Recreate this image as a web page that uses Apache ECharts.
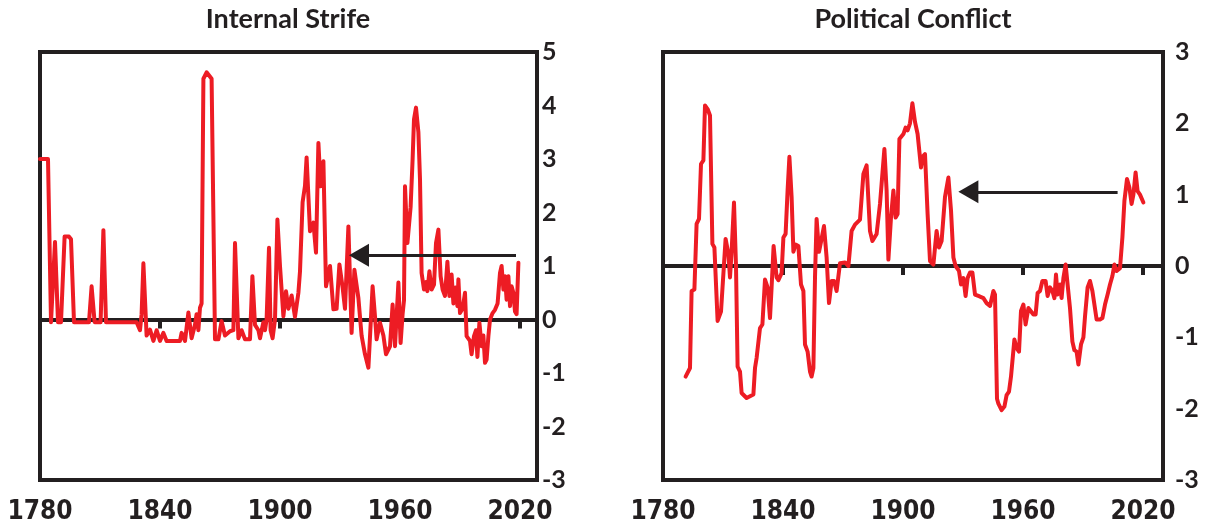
<!DOCTYPE html>
<html>
<head>
<meta charset="utf-8">
<script src="https://cdn.jsdelivr.net/npm/echarts@6/dist/echarts.min.js"></script>
<style>
html,body{margin:0;padding:0;background:#fff;}
#chart{width:1209px;height:524px;}
</style>
</head>
<body>
<div id="chart"></div>
<script>
// ---- Data ----
var xTickYears = [1780, 1840, 1900, 1960, 2020];

var strifeYears = [1780,1784,1785.5,1787.5,1789,1790.5,1792.3,1794.5,1795.5,1797,1804.5,1805.8,1807.3,1810.3,1811.7,1813,1828.3,1830,1830.8,1831.7,1833.3,1835,1836.7,1838.3,1840,1841.7,1843.3,1850,1850.8,1852.5,1854.2,1855.8,1857.5,1858.3,1859.2,1860,1860.8,1861.7,1863.3,1865.8,1867.5,1869.2,1870.8,1872.5,1875,1876.7,1877.5,1879.2,1880.8,1882.5,1885,1886.2,1887.5,1889.2,1890,1891.7,1892.5,1893.3,1894.5,1895.3,1896.3,1897.5,1898.7,1900,1901.7,1903,1904.2,1905.8,1907.5,1909.2,1910,1911.3,1912.5,1913.3,1915,1916.7,1918,1919.2,1920.3,1921.7,1923,1925,1926.7,1928.3,1929.7,1931.3,1932.5,1934.2,1935.8,1937.2,1939.2,1940.8,1942.5,1944.2,1945,1946.3,1947.5,1948.3,1950,1951.7,1953,1955,1956.3,1957.5,1959.2,1960.3,1961.3,1962,1962.5,1963.7,1964.7,1965.3,1966.3,1967,1968,1969.2,1970,1970.8,1972,1973,1973.7,1974.7,1975.8,1977,1978,1979.2,1980.3,1981.3,1982.5,1983.7,1984.7,1985.8,1986.7,1987.7,1988.7,1989.2,1990,1991.3,1992.5,1993.3,1995,1995.8,1997,1998,1998.7,1999.7,2000.8,2001.7,2002.5,2003.3,2004.2,2005,2006.3,2007.5,2008.8,2010,2010.8,2011.7,2012.5,2013.3,2014.2,2015,2015.8,2016.7,2017.5,2018.3,2019.2];
var strifeValues = [3.0,3.0,-0.05,1.45,-0.05,-0.05,1.55,1.55,1.5,-0.05,-0.05,0.62,-0.05,-0.05,1.67,-0.05,-0.05,-0.2,0.1,1.05,-0.3,-0.19,-0.4,-0.2,-0.4,-0.25,-0.4,-0.4,-0.25,-0.4,0.13,-0.35,-0.1,0.1,-0.2,0.22,0.3,4.5,4.62,4.5,-0.37,-0.37,-0.03,-0.3,-0.22,-0.2,1.43,-0.35,-0.2,-0.37,-0.37,0.81,-0.1,-0.2,-0.35,-0.05,-0.2,0.0,1.34,-0.2,-0.35,0.0,1.87,1.0,0.06,0.53,0.2,0.45,0.05,0.5,0.9,2.19,2.5,3.03,1.65,1.81,1.25,3.3,2.49,2.96,0.62,1.0,0.19,0.2,1.03,0.6,0.2,1.74,-0.25,0.93,0.4,-0.3,-0.65,-0.9,-0.87,0.62,0.06,-0.37,-0.06,-0.3,-0.65,-0.5,0.28,-0.5,0.69,-0.44,0.1,0.36,2.49,1.43,1.45,2.1,2.99,3.74,3.96,3.5,2.62,0.87,0.56,0.7,0.53,0.9,0.56,0.65,1.43,1.68,0.81,0.56,0.44,1.08,0.44,0.84,0.3,0.6,0.25,0.75,0.12,0.2,0.5,-0.31,-0.4,-0.65,-0.31,-0.2,-0.7,-0.06,-0.5,-0.3,-0.81,-0.75,-0.31,0.0,0.12,0.18,0.3,0.87,1.0,0.56,0.81,0.37,0.81,0.25,0.62,0.5,0.15,0.1,1.06];

var conflictYears = [1791.3,1793.5,1794.3,1795.7,1796.8,1798,1799,1800.2,1801,1802.3,1803.5,1804.7,1805.7,1807.3,1809,1811.3,1812.7,1813.5,1814.3,1815.5,1816.5,1817.3,1818.5,1819.3,1821.8,1825.2,1826,1826.8,1828.5,1829.7,1831,1832.3,1833.5,1834.3,1835.3,1836.8,1837.7,1839.3,1840.2,1841.3,1842.3,1843.2,1844.3,1845.2,1846.3,1847.7,1849,1850.2,1851,1852.3,1853.5,1854.3,1855.2,1856,1856.8,1858,1859,1860.5,1861.8,1863,1864.3,1865.5,1866.8,1868.5,1871,1872.7,1874.3,1876,1878.5,1880.2,1881.8,1883.5,1884.7,1886.8,1888.5,1889.3,1890.7,1891.8,1892.7,1894,1895.2,1896.3,1897.3,1898.2,1900.2,1901.3,1902.3,1903.5,1904.7,1906,1907.3,1909,1909.8,1911,1912.3,1913.5,1915.2,1916,1916.8,1918,1919.3,1921,1922.7,1924,1925.2,1926.3,1928,1929,1930.2,1931.3,1932.3,1933.5,1934.7,1936,1937.7,1940.2,1941.8,1943.5,1945.2,1946,1947,1947.7,1949.3,1950.7,1951.8,1953,1954,1954.7,1955.7,1956.8,1958,1959,1960.2,1961.3,1962.7,1963.5,1965.2,1966.3,1967.3,1968.5,1969.7,1971.3,1972.3,1973.5,1974.7,1975.7,1976.5,1977.3,1978.5,1979.3,1980.2,1981.3,1982.3,1983.5,1984.7,1985.7,1986.8,1987.7,1989,1990.2,1991,1992.3,1993.5,1994.7,1995.7,1996.8,1998.5,1999.7,2001,2002.3,2003.5,2004.7,2005.7,2006.8,2008.5,2009.7,2010.7,2012,2013.2,2014.3,2015.2,2016.3,2017.3,2018.5,2020.2];
var conflictValues = [-1.55,-1.43,-0.35,-0.33,0.59,0.66,1.43,1.48,2.25,2.2,2.11,0.31,0.26,-0.77,-0.64,0.38,0.17,-0.16,0.2,0.89,0.0,-1.41,-1.48,-1.78,-1.85,-1.8,-1.43,-1.29,-0.87,-0.82,-0.19,-0.3,-0.73,-0.3,0.28,-0.16,-0.2,-0.1,0.4,0.45,1.06,1.53,0.97,0.2,0.3,0.28,-0.26,-0.35,-1.1,-1.2,-1.48,-1.55,-1.43,-0.16,0.66,0.2,0.34,0.56,0.12,-0.52,-0.21,-0.21,-0.35,0.04,0.05,0.0,0.49,0.58,0.65,1.29,1.41,0.49,0.35,0.45,0.87,1.15,1.64,1.06,0.09,0.68,1.06,0.68,0.73,1.78,1.85,1.94,1.9,2.0,2.28,2.02,1.85,1.38,1.53,1.57,0.73,0.07,0.02,0.26,0.49,0.26,0.35,0.97,1.24,0.78,0.12,0.0,-0.07,-0.26,-0.17,-0.42,-0.17,-0.09,-0.09,-0.4,-0.42,-0.45,-0.52,-0.56,-0.35,-0.4,-1.86,-1.93,-2.02,-1.97,-1.81,-1.76,-1.55,-1.53,-1.03,-1.15,-1.2,-0.63,-0.54,-0.82,-0.59,-0.57,-0.68,-0.68,-0.38,-0.35,-0.21,-0.21,-0.42,-0.3,-0.35,-0.45,-0.12,-0.4,-0.26,-0.45,-0.17,0.02,-0.26,-0.59,-1.06,-1.18,-1.2,-1.38,-1.1,-1.0,-0.71,-0.3,-0.21,-0.35,-0.54,-0.75,-0.75,-0.73,-0.54,-0.4,-0.26,-0.14,0.02,-0.07,-0.03,0.4,0.91,1.22,1.1,0.87,1.0,1.31,1.05,1.0,0.89];

// arrows: [fromYear, toYear, level]
var strifeArrow = [2018, 1939.5, 1.2];
var conflictArrow = [2007.3, 1932.7, 1.04];

var titles = ['Internal Strife', 'Political Conflict'];

// ---- Build ----
function pairs(xs, ys) { return xs.map(function (x, i) { return [x, ys[i]]; }); }

var dark = '#231f20';
var red = '#ed1c24';
var xLabelFont = { fontFamily: '"Liberation Sans Narrow","DejaVu Sans Condensed",Roboto,sans-serif', fontWeight: 'bold', fontSize: 26, color: dark };
var yLabelFont = { fontFamily: 'Lato, "Noto Sans", sans-serif', fontWeight: 'bold', fontSize: 25, color: dark };

var grids = [
  { left: 40, top: 52, width: 497, height: 428 },
  { left: 663, top: 52, width: 500, height: 428 }
];
var xMax = [2028.5, 2030];
var yRange = [[-3, 5], [-3, 3]];
var yMargin = [5, 12];

var option = {
  animation: false,
  backgroundColor: '#ffffff',
  graphic: [],
  grid: grids.map(function (g) {
    return Object.assign({ show: true, borderColor: dark, borderWidth: 4, backgroundColor: 'transparent', containLabel: false, outerBoundsMode: 'none' }, g);
  }),
  xAxis: [],
  yAxis: [],
  series: []
};

[0, 1].forEach(function (gi) {
  // bottom label axis
  option.xAxis.push({
    gridIndex: gi, type: 'value', min: 1780, max: xMax[gi], position: 'bottom',
    axisLine: { show: false, onZero: false }, axisTick: { show: false }, splitLine: { show: false },
    axisLabel: Object.assign({ show: true, margin: 19, customValues: xTickYears, formatter: function (v) { return String(v); } }, xLabelFont)
  });
  // zero line axis with ticks
  option.xAxis.push({
    gridIndex: gi, type: 'value', min: 1780, max: xMax[gi], position: 'bottom',
    axisLine: { show: true, onZero: true, lineStyle: { color: dark, width: 4, cap: 'butt' } },
    axisTick: { show: true, inside: false, length: 9, lineStyle: { color: dark, width: 4 }, customValues: xTickYears },
    axisLabel: { show: false }, splitLine: { show: false }
  });
  option.yAxis.push({
    gridIndex: gi, type: 'value', min: yRange[gi][0], max: yRange[gi][1], interval: 1, position: 'right',
    axisLine: { show: false }, axisTick: { show: false }, splitLine: { show: false },
    axisLabel: Object.assign({ margin: yMargin[gi] }, yLabelFont)
  });
});

var seriesData = [pairs(strifeYears, strifeValues), pairs(conflictYears, conflictValues)];
var arrows = [strifeArrow, conflictArrow];
[0, 1].forEach(function (gi) {
  option.series.push({
    type: 'line', xAxisIndex: gi * 2 + 1, yAxisIndex: gi, data: seriesData[gi],
    showSymbol: false, symbol: 'none', smooth: false, z: 3,
    lineStyle: { color: red, width: 4, cap: 'round', join: 'round' },
    emphasis: { disabled: true },
    markLine: {
      silent: true, animation: false, symbol: ['none', 'triangle'], symbolSize: [23, 20],
      label: { show: false }, emphasis: { disabled: true },
      lineStyle: { color: dark, width: 3, type: 'solid' },
      itemStyle: { color: dark },
      data: [[{ coord: [arrows[gi][0], arrows[gi][2]] }, { coord: [arrows[gi][1], arrows[gi][2]] }]]
    }
  });
});

var titleX = [288, 913];
titles.forEach(function (t, i) {
  option.graphic.push({
    type: 'text', x: titleX[i], y: 19,
    style: { text: t, fill: dark, font: 'bold 27px Lato, "Noto Sans", sans-serif', textAlign: 'center', textVerticalAlign: 'middle' }
  });
});

var chart = echarts.init(document.getElementById('chart'), null, { renderer: 'canvas' });
chart.setOption(option);
</script>
</body>
</html>
